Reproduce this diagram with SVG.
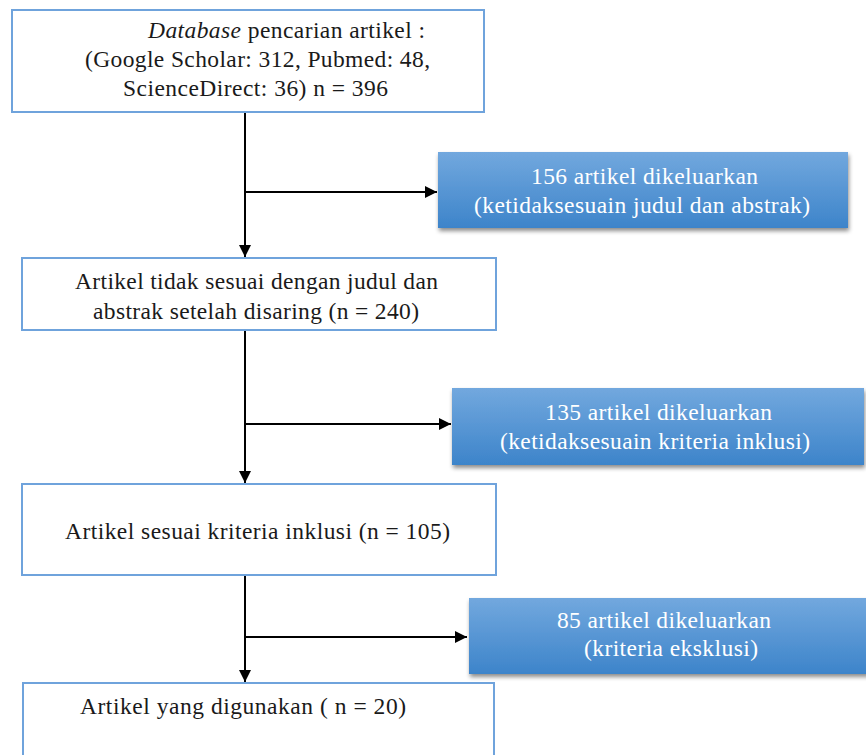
<svg xmlns="http://www.w3.org/2000/svg" width="866" height="755" viewBox="0 0 866 755">
<style>
.box{fill:#fff;stroke:#6fa3dc;stroke-width:2}
.blue{fill:url(#bg);filter:url(#sh)}
text{font-family:'Liberation Serif','Times New Roman',serif;font-size:23.5px}
.t{fill:#1a1a1a}
.w{fill:#fff}
.ln{stroke:#000;stroke-width:2;fill:none}
</style>
<defs>
<linearGradient id="bg" x1="0" y1="0" x2="0" y2="1">
<stop offset="0" stop-color="#72a8de"/>
<stop offset="1" stop-color="#3d84ca"/>
</linearGradient>
<filter id="sh" x="-5%" y="-10%" width="110%" height="130%">
<feDropShadow dx="1" dy="3" stdDeviation="2" flood-color="#000" flood-opacity="0.45"/>
</filter>
<marker id="ah" viewBox="0 0 10 10" refX="10" refY="5" markerWidth="6" markerHeight="6" orient="auto" markerUnits="strokeWidth">
<path d="M0,0 L10,5 L0,10 z" fill="#000"/>
</marker>
</defs>
<g id="connectors">
<line class="ln" x1="245" y1="112" x2="245" y2="257" marker-end="url(#ah)"/>
<line class="ln" x1="245" y1="192" x2="437" y2="192" marker-end="url(#ah)"/>
<line class="ln" x1="245" y1="330" x2="245" y2="483" marker-end="url(#ah)"/>
<line class="ln" x1="245" y1="424" x2="451" y2="424" marker-end="url(#ah)"/>
<line class="ln" x1="245" y1="575" x2="245" y2="682" marker-end="url(#ah)"/>
<line class="ln" x1="245" y1="637" x2="467" y2="637" marker-end="url(#ah)"/>
</g>
<g id="n1">
<rect class="box" x="12" y="10" width="472" height="102"/>
<text class="t" x="148" y="38" textLength="277" lengthAdjust="spacing"><tspan font-style="italic">Database</tspan> pencarian artikel :</text>
<text class="t" x="85" y="67" textLength="345" lengthAdjust="spacing">(Google Scholar: 312, Pubmed: 48,</text>
<text class="t" x="123" y="96" textLength="265" lengthAdjust="spacing">ScienceDirect: 36) n = 396</text>
</g>
<g id="x1">
<rect class="blue" x="438" y="152" width="410" height="76"/>
<text class="w" x="531" y="184" textLength="227" lengthAdjust="spacing">156 artikel dikeluarkan</text>
<text class="w" x="474" y="213" textLength="336" lengthAdjust="spacing">(ketidaksesuain judul dan abstrak)</text>
</g>
<g id="n2">
<rect class="box" x="22" y="258" width="474" height="72"/>
<text class="t" x="75" y="289" textLength="363" lengthAdjust="spacing">Artikel tidak sesuai dengan judul dan</text>
<text class="t" x="93" y="319" textLength="326" lengthAdjust="spacing">abstrak setelah disaring (n = 240)</text>
</g>
<g id="x2">
<rect class="blue" x="452" y="388" width="412" height="77"/>
<text class="w" x="545" y="420" textLength="227" lengthAdjust="spacing">135 artikel dikeluarkan</text>
<text class="w" x="500" y="449" textLength="310" lengthAdjust="spacing">(ketidaksesuain kriteria inklusi)</text>
</g>
<g id="n3">
<rect class="box" x="22" y="484" width="474" height="91"/>
<text class="t" x="65" y="539" textLength="385" lengthAdjust="spacing">Artikel sesuai kriteria inklusi (n = 105)</text>
</g>
<g id="x3">
<rect class="blue" x="469" y="598" width="400" height="76"/>
<text class="w" x="557" y="628" textLength="214" lengthAdjust="spacing">85 artikel dikeluarkan</text>
<text class="w" x="584" y="656" textLength="174" lengthAdjust="spacing">(kriteria eksklusi)</text>
</g>
<g id="n4">
<rect class="box" x="23" y="683" width="471" height="80"/>
<text class="t" x="80" y="714" textLength="326" lengthAdjust="spacing">Artikel yang digunakan ( n = 20)</text>
</g>
</svg>
